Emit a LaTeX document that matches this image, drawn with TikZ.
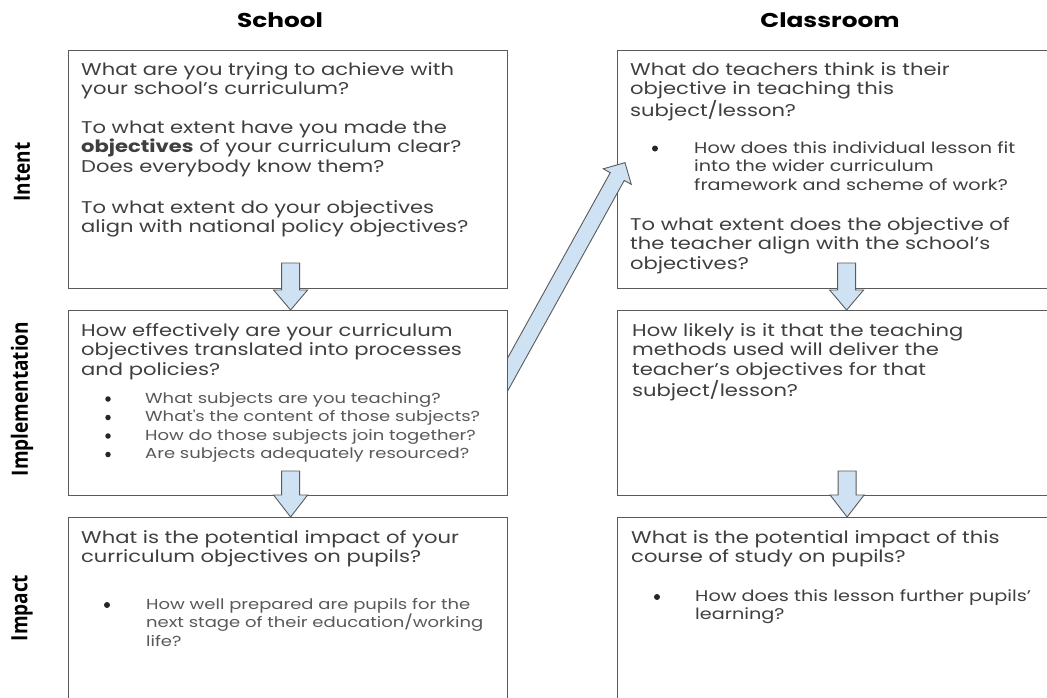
\documentclass[tikz,border=0pt]{standalone}
\usepackage{fontspec}
\setmainfont{Poppins}[FakeStretch=1.24]
\newfontfamily\labfont{Open Sans}
\usetikzlibrary{calc}
\definecolor{txtc}{HTML}{3F3F3F}
\definecolor{bulc}{HTML}{595959}
\definecolor{edgec}{HTML}{5A5A5A}
\definecolor{afill}{HTML}{CFE2F3}
\pgfdeclarelayer{back}\pgfdeclarelayer{mid}\pgfsetlayers{back,mid,main}
\tikzset{
  box/.style={draw=edgec, line width=1.2pt, fill=white, anchor=north west, inner sep=0},
  barrow/.style={draw=edgec, line width=0.9pt, fill=afill, line join=miter},
  body/.style={anchor=base west, inner sep=0, align=left, text width=430pt, text=txtc, font=\fontsize{17}{19.7}\selectfont},
  smallc/.style={anchor=base west, inner sep=0, align=left, text width=400pt, text=txtc, font=\fontsize{15.5}{18.5}\selectfont},
  smalls/.style={anchor=base west, inner sep=0, align=left, text width=400pt, text=bulc, font=\fontsize{14.5}{18.5}\selectfont},
  dot/.style={circle, fill=black!85, inner sep=0, minimum size=6pt},
  lab/.style={font=\labfont\bfseries\fontsize{19}{22}\selectfont, rotate=90, inner sep=0},
  ttl/.style={font=\bfseries\fontsize{20}{24}\selectfont, inner sep=0}
}
\newcommand\blockarrow[5]{%
  \coordinate (hb) at ($(#2)!#3!(#1)$);
  \draw[barrow] ($(#1)!#5!90:(#2)$) -- ($(hb)!#5!90:(#2)$) -- ($(hb)!#4!90:(#2)$) -- (#2)
    -- ($(hb)!#4!-90:(#2)$) -- ($(hb)!#5!-90:(#2)$) -- ($(#1)!#5!-90:(#2)$) -- cycle;}
\begin{document}
\begin{tikzpicture}[x=1pt,y=-1pt]
\useasboundingbox (0,0) rectangle (1047,697);
\clip (0,0) rectangle (1047,697);
% titles and row labels
\node[ttl] (tSchool) at (280,20) {School};
\node[ttl] (tClass) at (830,20) {Classroom};
\node[lab] (lInt) at (22,172) {\scalebox{1}[1.18]{Intent}};
\node[lab] (lImp) at (22,399) {\scalebox{1}[1.18]{Implementation}};
\node[lab] (lImc) at (22,608) {\scalebox{1}[1.18]{Impact}};
% school boxes (top layer)
\node[box, minimum width=439pt, minimum height=238pt] (si) at (68,50) {};
\node[box, minimum width=439pt, minimum height=185pt] (sm) at (68,310) {};
\node[box, minimum width=439pt, minimum height=200pt] (sp) at (68,517) {};
% classroom boxes (back layer)
\begin{pgfonlayer}{back}
\fill[white] (0,0) rectangle (1047,697);
\node[box, minimum width=440pt, minimum height=238pt] (ci) at (617,50) {};
\node[box, minimum width=440pt, minimum height=185pt] (cm) at (617,310) {};
\node[box, minimum width=440pt, minimum height=200pt] (cp) at (617,517) {};
\end{pgfonlayer}
% diagonal arrow (middle layer)
\begin{pgfonlayer}{mid}
\coordinate (dtail) at ($(sm.east)+(-12,-8)$);
\coordinate (dtip) at ($(ci.west)+(8,-7)$);
\blockarrow{dtail}{dtip}{16pt}{16pt}{8pt}
\end{pgfonlayer}
% vertical arrows
\coordinate (a1tip) at ($(sm.north)+(2.5,0)$);
\coordinate (a1tail) at ($(a1tip)+(0,-47)$);
\blockarrow{a1tail}{a1tip}{20pt}{17pt}{9pt}
\coordinate (a2tip) at ($(sp.north)+(2.5,0)$);
\coordinate (a2tail) at ($(a2tip)+(0,-46)$);
\blockarrow{a2tail}{a2tip}{22pt}{17pt}{9pt}
\coordinate (a3tip) at ($(cm.north)+(9,0)$);
\coordinate (a3tail) at ($(a3tip)+(0,-47)$);
\blockarrow{a3tail}{a3tip}{20pt}{17pt}{9pt}
\coordinate (a4tip) at ($(cp.north)+(9.5,0)$);
\coordinate (a4tail) at ($(a4tip)+(0,-46)$);
\blockarrow{a4tail}{a4tip}{22pt}{17pt}{9pt}
% school intent text
\node[body] (si1) at (81,75) {What are you trying to achieve with\\your school’s curriculum?};
\node[body] (si2) at (81,133) {To what extent have you made the\\\textbf{objectives} of your curriculum clear?\\Does everybody know them?};
\node[body] (si3) at (81,213) {To what extent do your objectives\\align with national policy objectives?};
% classroom intent text
\node[body] (ci1) at (630,75) {What do teachers think is their\\objective in teaching this\\subject/lesson?};
\node[dot] (cib) at (655,148.5) {};
\node[smallc] (ci2) at (694,153) {How does this individual lesson fit\\into the wider curriculum\\framework and scheme of work?};
\node[body] (ci3) at (630,230) {To what extent does the objective of\\the teacher align with the school’s\\objectives?};
% school implementation text
\node[body] (sm1) at (81,336) {How effectively are your curriculum\\objectives translated into processes\\and policies?};
\node[dot, minimum size=5.5pt] (smb1) at (108,399) {};
\node[dot, minimum size=5.5pt] (smb2) at (108,417.5) {};
\node[dot, minimum size=5.5pt] (smb3) at (108,436) {};
\node[dot, minimum size=5.5pt] (smb4) at (108,454.5) {};
\node[smalls] (sm2) at (145,403) {What subjects are you teaching?\\What\textquotesingle s the content of those subjects?\\How do those subjects join together?\\Are subjects adequately resourced?};
% classroom implementation text
\node[body] (cm1) at (632,336) {How likely is it that the teaching\\methods used will deliver the\\teacher’s objectives for that\\subject/lesson?};
% school impact text
\node[body] (sp1) at (81,543) {What is the potential impact of your\\curriculum objectives on pupils?};
\node[dot] (spb) at (107,605) {};
\node[smalls] (sp2) at (146,609) {How well prepared are pupils for the\\next stage of their education/working\\life?};
% classroom impact text
\node[body] (cp1) at (631,543) {What is the potential impact of this\\course of study on pupils?};
\node[dot] (cpb) at (657,597) {};
\node[smallc] (cp2) at (695,601) {How does this lesson further pupils’\\learning?};
\end{tikzpicture}
\end{document}
